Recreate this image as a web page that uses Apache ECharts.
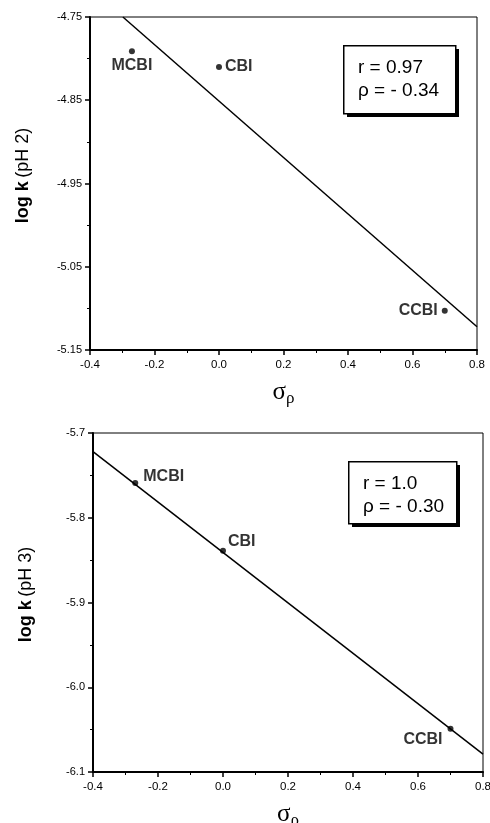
<!DOCTYPE html>
<html>
<head>
<meta charset="utf-8">
<style>
    html, body {margin: 0; padding: 0; background: #fff;}
    #main {width: 490px; height: 823px;}
</style>
<script src="https://cdn.jsdelivr.net/npm/echarts@6/dist/echarts.min.js"></script>
</head>
<body>
<div id="main"></div>
<script>
    // 数据
    var names = ['MCBI', 'CBI', 'CCBI'];
    var sigma = [-0.27, 0.0, 0.70];
    var logkPH2 = [-4.791, -4.810, -5.103];
    var logkPH3 = [-5.759, -5.839, -6.049];
    // 回归线端点
    var fitX2 = [-0.298, 0.8];
    var fitY2 = [-4.750, -5.122];
    var fitX3 = [-0.4, 0.8];
    var fitY3 = [-5.722, -6.079];
    var statsPH2 = ['r = 0.97', 'ρ = - 0.34'];
    var statsPH3 = ['r = 1.0', 'ρ = - 0.30'];

    var font = 'Liberation Sans, Arial, Helvetica, sans-serif';
    var serif = 'Liberation Serif, Times New Roman, serif';

    function pairs(xs, ys) {
        return xs.map(function (x, i) {
            return [x, ys[i]];
        });
    }

    function points(ys, labels) {
        return names.map(function (n, i) {
            return {
                name: n,
                value: [sigma[i], ys[i]],
                label: labels[i]
            };
        });
    }

    function xAxis(idx) {
        return {
            type: 'value',
            gridIndex: idx,
            min: -0.4,
            max: 0.8,
            interval: 0.2,
            name: '{s|σ}{p|ρ}',
            nameLocation: 'middle',
            nameGap: 30,
            nameTextStyle: {
                rich: {
                    s: {fontFamily: serif, fontSize: 25, color: '#000', verticalAlign: 'top', lineHeight: 24},
                    p: {fontFamily: serif, fontSize: 17, color: '#000', verticalAlign: 'bottom', lineHeight: 27}
                }
            },
            axisLine: {onZero: false, lineStyle: {color: '#000', width: 2}},
            axisTick: {length: 5, lineStyle: {color: '#000', width: 1.5}},
            minorTick: {show: true, splitNumber: 2, length: 3, lineStyle: {color: '#000', width: 1}},
            splitLine: {show: false},
            axisLabel: {
                color: '#000', fontSize: 11.5, fontFamily: font, margin: 9,
                formatter: function (v) { return v.toFixed(1); }
            }
        };
    }

    function yAxis(idx, min, max, digits, ph) {
        return {
            type: 'value',
            gridIndex: idx,
            min: min,
            max: max,
            interval: 0.1,
            name: '{b|log k} {n|(pH ' + ph + ')}',
            nameLocation: 'middle',
            nameGap: 58,
            nameTextStyle: {
                padding: [0, 0, 0, 16],
                rich: {
                    b: {fontFamily: font, fontSize: 18, fontWeight: 'bold', color: '#000'},
                    n: {fontFamily: font, fontSize: 18, color: '#000'}
                }
            },
            axisLine: {onZero: false, lineStyle: {color: '#000', width: 2}},
            axisTick: {length: 5, lineStyle: {color: '#000', width: 1.5}},
            minorTick: {show: true, splitNumber: 2, length: 3, lineStyle: {color: '#000', width: 1}},
            splitLine: {show: false},
            axisLabel: {
                color: '#000', fontSize: 11, fontFamily: font, margin: 8,
                formatter: function (v) { return v.toFixed(digits); }
            }
        };
    }

    function lbl(pos, dist, off) {
        return {
            show: true,
            position: pos,
            distance: dist,
            offset: off || [0, 0],
            formatter: '{b}',
            color: '#000',
            fontFamily: font,
            fontSize: 16,
            fontWeight: 'bold'
        };
    }

    // 带阴影的统计框
    function statBox(left, top, w, h, lines) {
        return [
            {
                type: 'rect',
                left: left + 4,
                top: top + 4,
                shape: {width: w, height: h},
                style: {fill: '#000'}
            },
            {
                type: 'rect',
                left: left,
                top: top,
                shape: {width: w, height: h},
                style: {fill: '#fff', stroke: '#000', lineWidth: 1.5}
            },
            {
                type: 'text',
                left: left + 15,
                top: top + 11,
                style: {text: lines.join('\n'), font: '19px ' + font, fill: '#000', lineHeight: 23}
            }
        ];
    }

    var myChart = echarts.init(document.getElementById('main'));
    myChart.setOption({
        backgroundColor: '#fff',
        animation: false,
        grid: [
            {left: 90, top: 17, width: 387, height: 333, outerBoundsMode: 'none', containLabel: false, show: true, borderColor: '#000', borderWidth: 1, backgroundColor: 'transparent'},
            {left: 93, top: 433, width: 390, height: 339, outerBoundsMode: 'none', containLabel: false, show: true, borderColor: '#000', borderWidth: 1, backgroundColor: 'transparent'}
        ],
        xAxis: [xAxis(0), xAxis(1)],
        yAxis: [
            yAxis(0, -5.15, -4.75, 2, 2),
            yAxis(1, -6.1, -5.7, 1, 3)
        ],
        graphic: statBox(343, 45, 112, 68, statsPH2).concat(statBox(348, 461, 108, 62, statsPH3)),
        series: [
            {
                type: 'line',
                xAxisIndex: 0, yAxisIndex: 0,
                data: pairs(fitX2, fitY2),
                symbol: 'none',
                lineStyle: {color: '#000', width: 1.5},
                clip: true
            },
            {
                type: 'scatter',
                xAxisIndex: 0, yAxisIndex: 0,
                symbolSize: 6,
                itemStyle: {color: '#000'},
                data: points(logkPH2, [lbl('bottom', 3), lbl('right', 3), lbl('left', 4)])
            },
            {
                type: 'line',
                xAxisIndex: 1, yAxisIndex: 1,
                data: pairs(fitX3, fitY3),
                symbol: 'none',
                lineStyle: {color: '#000', width: 1.5},
                clip: true
            },
            {
                type: 'scatter',
                xAxisIndex: 1, yAxisIndex: 1,
                symbolSize: 6,
                itemStyle: {color: '#000'},
                data: points(logkPH3, [lbl('right', 5, [0, -6]), lbl('right', 2, [0, -9]), lbl('left', 5, [0, 11])])
            }
        ]
    });
</script>
</body>
</html>
